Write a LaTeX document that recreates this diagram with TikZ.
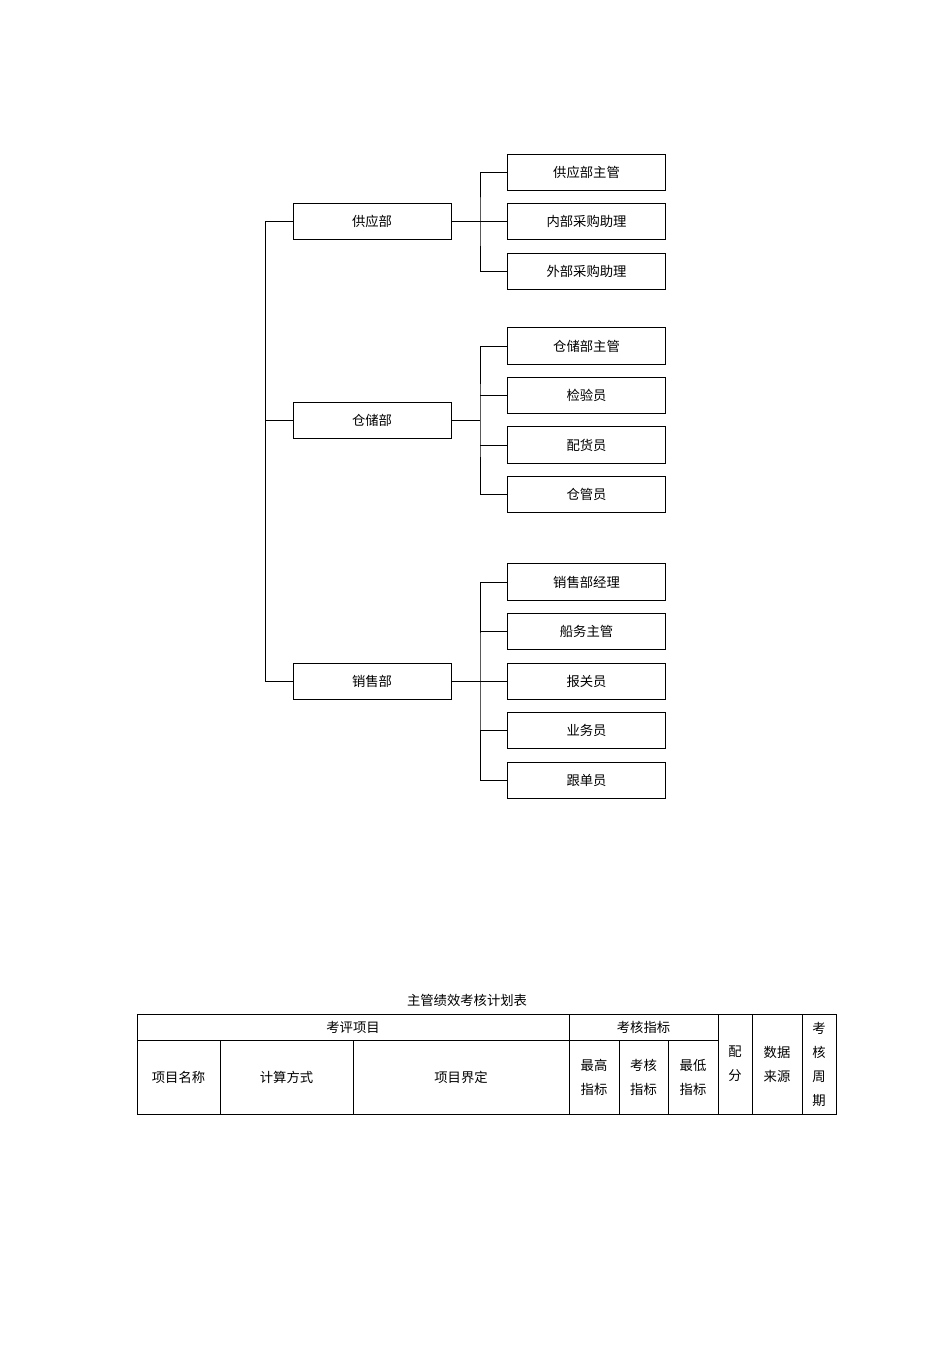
\documentclass[tikz,border=0pt]{standalone}
\usepackage{fontspec}
\setmainfont{Noto Sans CJK SC}
\begin{document}
\begin{tikzpicture}[x=0.75pt,y=-0.75pt,
  box/.style={draw,line width=0.7pt,minimum width=118.5pt,minimum height=27.5pt,inner sep=0pt,font=\fontsize{10}{12}\selectfont},
  lk/.style={line width=0.7pt},
  tx/.style={font=\fontsize{10}{18}\selectfont,align=center,inner sep=0pt}]
\useasboundingbox (0,0) rectangle (950,1346);
% departments
\node[box] (d1) at (372,221.5) {供应部};
\node[box] (d2) at (372,420.5) {仓储部};
\node[box] (d3) at (372,681.5) {销售部};
\coordinate (r1) at (265,221.5);
\coordinate (r3) at (265,681.5);
\draw[lk] (r1) -- (r3);
\draw[lk] (r1) -- (d1.west);
\draw[lk] (265,420.5) -- (d2.west);
\draw[lk] (r3) -- (d3.west);
% supply
\node[box] (s1) at (586.5,172.5) {供应部主管};
\node[box] (s2) at (586.5,221.5) {内部采购助理};
\node[box] (s3) at (586.5,271.5) {外部采购助理};
\coordinate (j1) at (480,221.5);
\draw[lk] (d1.east) -- (j1);
\draw[lk] (s1.west) -| (480,221.5) |- (s3.west);
\draw[lk] (j1) -- (s2.west);
% warehouse
\node[box] (w1) at (586.5,346) {仓储部主管};
\node[box] (w2) at (586.5,395.5) {检验员};
\node[box] (w3) at (586.5,445) {配货员};
\node[box] (w4) at (586.5,494.5) {仓管员};
\coordinate (j2) at (480,420.5);
\draw[lk] (d2.east) -- (j2);
\draw[lk] (w1.west) -| (j2) |- (w4.west);
\draw[lk] (480,395.5) -- (w2.west);
\draw[lk] (480,445) -- (w3.west);
% sales
\node[box] (x1) at (586.5,582) {销售部经理};
\node[box] (x2) at (586.5,631.5) {船务主管};
\node[box] (x3) at (586.5,681.5) {报关员};
\node[box] (x4) at (586.5,730.5) {业务员};
\node[box] (x5) at (586.5,780.5) {跟单员};
\coordinate (j3) at (480,681.5);
\draw[lk] (d3.east) -- (x3.west);
\draw[lk] (x1.west) -| (j3) |- (x5.west);
\draw[lk] (480,631.5) -- (x2.west);
\draw[lk] (480,730.5) -- (x4.west);
% table
\node[tx] (tt) at (467,1000) {主管绩效考核计划表};
\draw[lk] (137,1014) rectangle (836,1114);
\draw[lk] (137,1040) -- (718,1040);
\foreach \x in {569,718,752,802} \draw[lk] (\x,1014) -- (\x,1114);
\foreach \x in {220,353,619,668} \draw[lk] (\x,1040) -- (\x,1114);
\node[tx] (h1) at (353,1027) {考评项目};
\node[tx] (h2) at (643.5,1027) {考核指标};
\node[tx] (c1) at (178.5,1077) {项目名称};
\node[tx] (c2) at (286.5,1077) {计算方式};
\node[tx] (c3) at (461,1077) {项目界定};
\node[tx] (c4) at (594,1077) {最高\\指标};
\node[tx] (c5) at (643.5,1077) {考核\\指标};
\node[tx] (c6) at (693,1077) {最低\\指标};
\node[tx] (c7) at (735,1064) {配\\分};
\node[tx] (c8) at (777,1064) {数据\\来源};
\node[tx] (c9) at (819,1064) {考\\核\\周\\期};
\end{tikzpicture}
\end{document}
